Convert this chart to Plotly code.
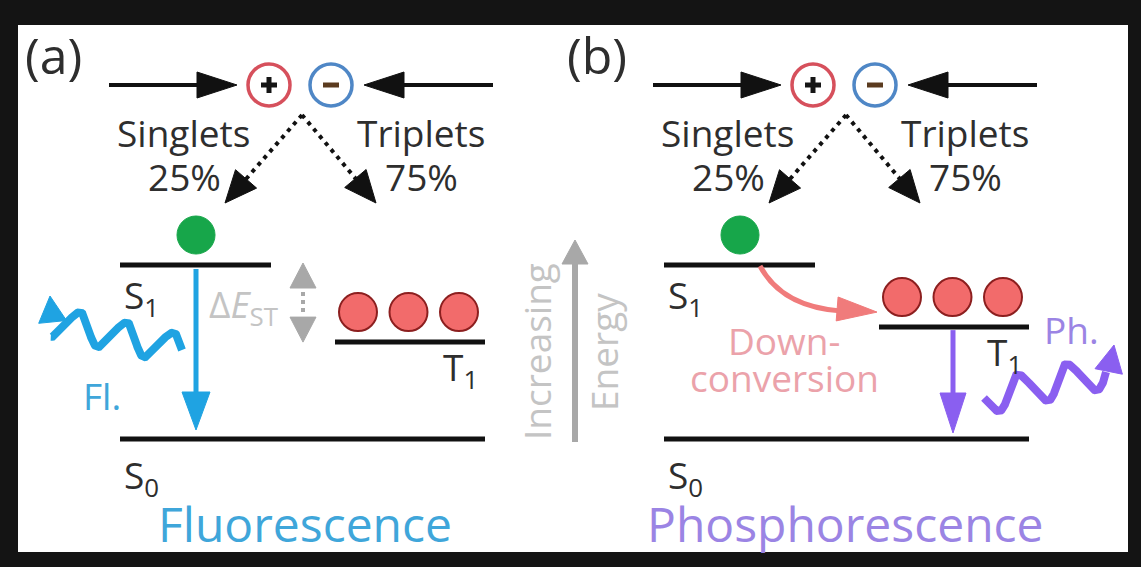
import numpy as np
import plotly.graph_objects as go

# ---------------- data ----------------
panel_tags = ["(a)", "(b)"]
panel_titles = ["Fluorescence", "Phosphorescence"]
spin_labels = ["Singlets", "Triplets"]
spin_shares = [25, 75]                 # percent of excitons formed
exciton_counts = [1, 3]                # singlet / triplet excitons drawn
level_labels = ["S<sub>1</sub>", "T<sub>1</sub>", "S<sub>0</sub>"]
level_energy_a = [1.0, 0.557, 0.0]     # relative energies S1, T1, S0 (panel a)
level_energy_b = [1.0, 0.643, 0.0]     # relative energies S1, T1, S0 (panel b)
emission_labels = ["Fl.", "Ph."]
gap_label = "Δ<i>E</i><sub>ST</sub>"
axis_label = ["Increasing", "Energy"]
conversion_label = ["Down-", "conversion"]

# ---------------- styles ----------------
W, H = 1141, 567
FONT = "Open Sans"
TXT = "#2e2e2e"
LEVEL = "#111111"
BLUE = "#1fa3e2"
BLUE_T = "#3fa6da"
PURPLE = "#8a5ff0"
PURPLE_T = "#9b84e4"
PINK = "#f07b7b"
PINK_T = "#eba2aa"
GRAY = "#a8a8a8"
GRAY_T = "#c4c4c4"
GREEN = "#17a64a"
RED_F = "#f26b6b"
RED_L = "#8c1f1f"
E_ZERO, E_SCALE = 439, 174     # pixel mapping of relative energy
SHIFT = 544                    # horizontal offset of panel (b)

shapes = []
annotations = []
traces = []


def ey(e):
    return E_ZERO - E_SCALE * e


def tri(tx, ty, dx, dy, length, half, color):
    n = np.hypot(dx, dy)
    ux, uy = dx / n, dy / n
    bx, by = tx - ux * length, ty - uy * length
    px, py = -uy, ux
    p1 = (bx + px * half, by + py * half)
    p2 = (bx - px * half, by - py * half)
    shapes.append(dict(type="path",
                       path=f"M {tx:.1f},{ty:.1f} L {p1[0]:.1f},{p1[1]:.1f} L {p2[0]:.1f},{p2[1]:.1f} Z",
                       fillcolor=color, line=dict(color=color, width=1), layer="above"))


def line(x0, y0, x1, y1, color, width, dash=None):
    d = dict(type="line", x0=x0, y0=y0, x1=x1, y1=y1,
             line=dict(color=color, width=width), layer="above")
    if dash:
        d["line"]["dash"] = dash
    shapes.append(d)


def circle(cx, cy, r, fill, lc, lw):
    shapes.append(dict(type="circle", x0=cx - r, x1=cx + r, y0=cy - r, y1=cy + r,
                       fillcolor=fill, line=dict(color=lc, width=lw), layer="above"))


def text(x, y, s, size, color, xa="center", angle=0):
    annotations.append(dict(x=x, y=y, text=s, showarrow=False, xanchor=xa, yanchor="middle",
                            textangle=angle, font=dict(family=FONT, size=size, color=color)))


def wave(x0, y0, x1, y1, periods, amp, color, width):
    t = np.linspace(0, 1, 300)
    dx, dy = x1 - x0, y1 - y0
    n = np.hypot(dx, dy)
    px, py = -dy / n, dx / n
    s = amp * np.sin(2 * np.pi * periods * t)
    xs = x0 + dx * t + px * s
    ys = y0 + dy * t + py * s
    traces.append(go.Scatter(x=xs, y=ys, mode="lines", hoverinfo="skip", showlegend=False,
                             line=dict(color=color, width=width)))


# frame
shapes.append(dict(type="rect", x0=18, x1=1128, y0=25, y1=552, fillcolor="white",
                   line=dict(width=0), layer="below"))

for k, energies in enumerate([level_energy_a, level_energy_b]):
    o = SHIFT * k
    s1y, t1y, s0y = ey(energies[0]), ey(energies[1]), ey(energies[2])

    text(53 + o, 55, panel_tags[k], 50, TXT)

    # charge injection
    line(109 + o, 85, 200 + o, 85, LEVEL, 4)
    tri(237 + o, 85, 1, 0, 40, 13, LEVEL)
    line(493 + o, 85, 400 + o, 85, LEVEL, 4)
    tri(364 + o, 85, -1, 0, 40, 13, LEVEL)
    circle(269 + o, 85, 21, "white", "#d6505c", 3.5)
    line(261 + o, 85, 277 + o, 85, "#151515", 5)
    line(269 + o, 77, 269 + o, 93, "#151515", 5)
    circle(331 + o, 85, 21, "white", "#4f87c6", 3.5)
    line(323 + o, 85, 339 + o, 85, "#5b3b1f", 5)

    # spin statistics
    text(183 + o, 132, spin_labels[0], 37, TXT)
    text(184 + o, 176, f"{spin_shares[0]}%", 37, TXT)
    text(421 + o, 132, spin_labels[1], 37, TXT)
    text(421 + o, 176, f"{spin_shares[1]}%", 37, TXT)
    line(302 + o, 115, 246 + o, 179, LEVEL, 4, dash="4px,5px")
    tri(225 + o, 203, -77, 88, 32, 14, LEVEL)
    line(302 + o, 115, 356 + o, 179, LEVEL, 4, dash="4px,5px")
    tri(376 + o, 203, 74, 88, 32, 14, LEVEL)

    # levels
    line(120 + o, s1y, 271 + o, s1y, LEVEL, 5)
    line(335 + o, t1y, 485 + o, t1y, LEVEL, 5)
    line(120 + o, s0y, 485 + o, s0y, LEVEL, 5)
    text(122 + o, s1y + 32, level_labels[0], 37, TXT, xa="left")
    text(441 + o, t1y + 27, level_labels[1], 37, TXT, xa="left")
    text(122 + o, s0y + 38, level_labels[2], 37, TXT, xa="left")

    # excitons
    for i in range(exciton_counts[0]):
        circle(196 + o, s1y - 30, 19, GREEN, GREEN, 1)
    for i in range(exciton_counts[1]):
        circle(358 + 50.5 * i + o, t1y - 30, 19, RED_F, RED_L, 2)

    text(305 + o if k == 0 else 845, 523, panel_titles[k], 48, BLUE_T if k == 0 else PURPLE_T)

# ---- panel (a) specifics
s1a, t1a, s0a = [ey(e) for e in level_energy_a]
line(196, s1a + 4, 196, s0a - 40, BLUE, 5)
tri(196, s0a - 9, 0, 1, 38, 14, BLUE)
wave(182, 350, 54, 322, 2.75, 15, BLUE, 8)
tri(50, 296, -0.1, -1, 26, 14, BLUE)
text(102, 395, emission_labels[0], 37, BLUE_T)
text(207, 306, gap_label, 37, GRAY_T, xa="left")
tri(303, s1a - 2, 0, -1, 25, 13, GRAY)
tri(303, t1a, 0, 1, 25, 13, GRAY)
line(303, 292, 303, 313, GRAY, 4, dash="4px,4px")

# energy axis
line(575, 442, 575, 258, GRAY, 6)
tri(575, 240, 0, -1, 24, 13, GRAY)
text(536, 352, axis_label[0], 37, GRAY_T, angle=-90)
text(603, 352, axis_label[1], 37, GRAY_T, angle=-90)

# ---- panel (b) specifics
s1b, t1b, s0b = [ey(e) for e in level_energy_b]
shapes.append(dict(type="path", path=f"M 760,{s1b + 1} Q 782,{t1b - 20} 842,{t1b - 16}",
                   line=dict(color=PINK, width=5), layer="above"))
tri(877, t1b - 15, 1, 0.08, 40, 12, PINK)
text(784, 340, conversion_label[0], 37, PINK_T)
text(784, 377, conversion_label[1], 37, PINK_T)
line(953, t1b + 3, 953, s0b - 42, PURPLE, 5)
tri(953, s0b - 6, 0, 1, 40, 13, PURPLE)
wave(984, 398, 1106, 372, 2.5, 16, PURPLE, 8)
tri(1114, 345, 0.2, -1, 27, 14, PURPLE)
text(1071, 329, emission_labels[1], 37, PURPLE_T)

fig = go.Figure(traces)
fig.update_layout(
    width=W, height=H, margin=dict(l=0, r=0, t=0, b=0),
    paper_bgcolor="#141414", plot_bgcolor="rgba(0,0,0,0)",
    xaxis=dict(range=[0, W], visible=False, fixedrange=True),
    yaxis=dict(range=[H, 0], visible=False, fixedrange=True),
    shapes=shapes, annotations=annotations, showlegend=False,
)
fig.write_html("out.html", config={"displayModeBar": False})
